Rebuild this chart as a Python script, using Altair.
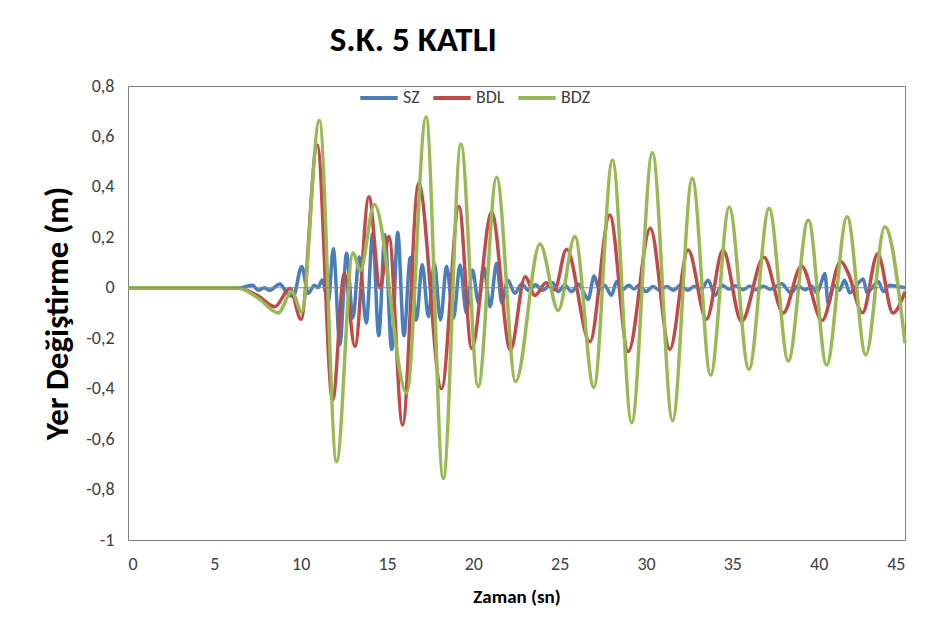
import altair as alt
import pandas as pd

# ---- data (time in s, displacement in m) ----
sz_t = [0, 6.5, 7.2, 7.55, 7.9, 8.2, 8.8, 9.19, 9.57, 10.06, 10.44, 10.8, 11.0, 11.25, 11.6,
        11.89, 12.27, 12.66, 13.03, 13.39, 13.8, 14.17, 14.52, 14.88, 15.27, 15.62, 15.98,
        16.35, 16.7, 17.04, 17.4, 17.74, 18.1, 18.45, 18.85, 19.23, 19.6, 19.95, 20.3, 20.6,
        20.97, 21.35, 21.65, 22.0, 22.4, 22.8, 23.2, 23.6, 24.0, 24.6, 24.9, 25.3, 25.7, 26.1,
        26.4, 26.65, 27.0, 27.3, 27.6, 28.0, 28.3, 28.6, 29.0, 29.3, 29.6, 30.0, 30.4, 30.8,
        31.2, 31.6, 32.0, 32.4, 32.8, 33.2, 33.6, 34.0, 34.4, 34.8, 35.2, 35.6, 36.0, 36.4,
        36.8, 37.2, 37.5, 37.85, 38.4, 38.8, 39.2, 39.6, 39.9, 40.1, 40.36, 40.55, 40.9, 41.2,
        41.5, 41.8, 42.2, 42.58, 42.8, 43.1, 43.45, 43.75, 44.1, 44.6, 45.0]
sz_v = [0, 0, 0.01, -0.01, 0.0, -0.01, 0.015, -0.02, -0.035, 0.084, -0.022, 0.01, 0.0, 0.031, -0.06,
        0.155, -0.225, 0.137, -0.12, 0.123, -0.14, 0.215, -0.19, 0.21, -0.245, 0.22, -0.19,
        0.12, -0.128, 0.092, -0.115, 0.096, -0.128, 0.085, -0.12, 0.09, -0.10, 0.07, -0.06, 0.084,
        -0.075, 0.097, -0.06, 0.03, -0.022, 0.015, -0.01, 0.012, -0.01, 0.02, -0.015, 0.01, -0.015, 0.015,
        -0.02, -0.046, 0.047, -0.01, 0.01, -0.03, 0.025, -0.01, 0.01, -0.005, 0.01, -0.015, 0.005, -0.01,
        0.005, -0.01, 0.01, -0.01, 0.005, -0.005, 0.03, -0.03, 0.01, -0.005, 0.008, -0.008, 0.006, -0.008,
        0.006, -0.006, 0.005, 0.016, -0.02, 0.008, -0.008, 0.006, -0.02, 0.01, 0.057, -0.063, 0.01, -0.01,
        0.03, -0.02, 0.01, 0.035, -0.02, 0.0, 0.025, -0.015, 0.01, 0.005, 0.0]

bdl_t = [0, 6.3, 7.55, 8.5, 9.38, 10.02, 10.96, 11.85, 12.53, 13.14, 13.95, 14.6, 15.11, 15.9,
         16.83, 18.16, 19.17, 19.9, 21.06, 22.15, 23.0, 23.57, 24.22, 24.7, 25.4, 26.75, 27.9,
         28.97, 30.25, 31.38, 32.44, 33.5, 34.46, 35.53, 36.83, 37.95, 39.0, 40.2, 41.28, 41.7,
         42.54, 43.42, 44.3, 45.0]
bdl_v = [0, 0, -0.033, -0.075, -0.002, -0.125, 0.566, -0.445, 0.057, -0.233, 0.361, 0.0, 0.203, -0.544,
         0.414, -0.40, 0.322, -0.24, 0.298, -0.247, 0.044, -0.03, 0.02, -0.008, 0.153, -0.214, 0.289,
         -0.253, 0.236, -0.244, 0.15, -0.125, 0.15, -0.134, 0.121, -0.10, 0.086, -0.13, 0.104, 0.06,
         -0.099, 0.135, -0.10, -0.015]

bdz_t = [0, 6.35, 7.55, 8.7, 9.48, 10.06, 11.08, 12.08, 13.03, 13.45, 14.27, 16.14, 17.26, 18.26,
         19.28, 20.28, 21.35, 22.45, 23.86, 24.92, 25.88, 26.98, 28.06, 29.17, 30.37, 31.54, 32.68,
         33.74, 34.82, 35.96, 37.13, 38.24, 39.4, 40.46, 41.65, 42.73, 43.83, 45.0]
bdz_v = [0, 0, -0.042, -0.10, -0.015, -0.095, 0.663, -0.69, 0.138, 0.068, 0.33, -0.417, 0.677, -0.755,
         0.570, -0.392, 0.438, -0.372, 0.174, -0.09, 0.203, -0.395, 0.507, -0.535, 0.536, -0.527, 0.434,
         -0.346, 0.319, -0.323, 0.315, -0.29, 0.269, -0.306, 0.282, -0.266, 0.242, -0.22]

series_names = ["SZ", "BDL", "BDZ"]
series_colors = ["#4A7EBB", "#BE4B48", "#98B954"]
x_ticks = [0, 5, 10, 15, 20, 25, 30, 35, 40, 45]
y_ticks = [-1, -0.8, -0.6, -0.4, -0.2, 0, 0.2, 0.4, 0.6, 0.8]

frames = []
for name, ts, vs in zip(series_names, [sz_t, bdl_t, bdz_t], [sz_v, bdl_v, bdz_v]):
    frames.append(pd.DataFrame({"t": ts, "v": vs, "seri": name}))
df = pd.concat(frames, ignore_index=True)

FONT = "Carlito, Lato, Open Sans, sans-serif"

x_enc = alt.X("t:Q", scale=alt.Scale(domain=[0, 45], nice=False),
              axis=alt.Axis(values=x_ticks, title="Zaman (sn)", grid=False, ticks=False,
                            domain=False, labelFontSize=18, labelPadding=15,
                            titleFontSize=19, titleFontWeight="bold", titlePadding=14,
                            labelColor="#404040", titleColor="#000000", labelFont=FONT,
                            titleFont=FONT))
y_enc = alt.Y("v:Q", scale=alt.Scale(domain=[-1, 0.8], nice=False, zero=False),
              axis=alt.Axis(values=y_ticks, title="Yer Değiştirme (m)", grid=False, ticks=False,
                            domain=False, labelFontSize=18, labelPadding=14,
                            labelExpr="replace(toString(datum.value), '.', ',')",
                            titleFontSize=33, titleFontWeight="bold", titlePadding=11,
                            labelColor="#404040", titleColor="#000000", labelFont=FONT,
                            titleFont=FONT))

zero_df = pd.DataFrame({"v": [0]})
zero_rule = alt.Chart(zero_df).mark_rule(color="#868686", strokeWidth=1).encode(y=alt.Y("v:Q"))

lines = alt.Chart(df).mark_line(strokeWidth=3.5, interpolate="monotone").encode(
    x=x_enc,
    y=y_enc,
    color=alt.Color("seri:N", scale=alt.Scale(domain=series_names, range=series_colors),
                    legend=alt.Legend(title=None, orient="none", direction="horizontal",
                                      legendX=230, legendY=-9, symbolType="stroke",
                                      symbolSize=1400, symbolStrokeWidth=4,
                                      labelFontSize=18, labelFont=FONT, labelColor="#404040",
                                      columnPadding=5, labelOffset=3)),
    order=alt.value(0),
)

chart = alt.layer(lines, zero_rule).properties(
    width=777, height=454,
    title=alt.TitleParams("S.K. 5 KATLI", anchor="start", dx=288, offset=19,
                          fontSize=35, fontWeight="bold", font=FONT, color="#000000"),
    autosize=alt.AutoSizeParams(type="none"),
    padding={"left": 120, "top": 78, "right": 15, "bottom": 80},
).configure_view(stroke="#7F7F7F", strokeWidth=1)

chart.save("out.html", embed_options={"renderer": "svg", "actions": False})
